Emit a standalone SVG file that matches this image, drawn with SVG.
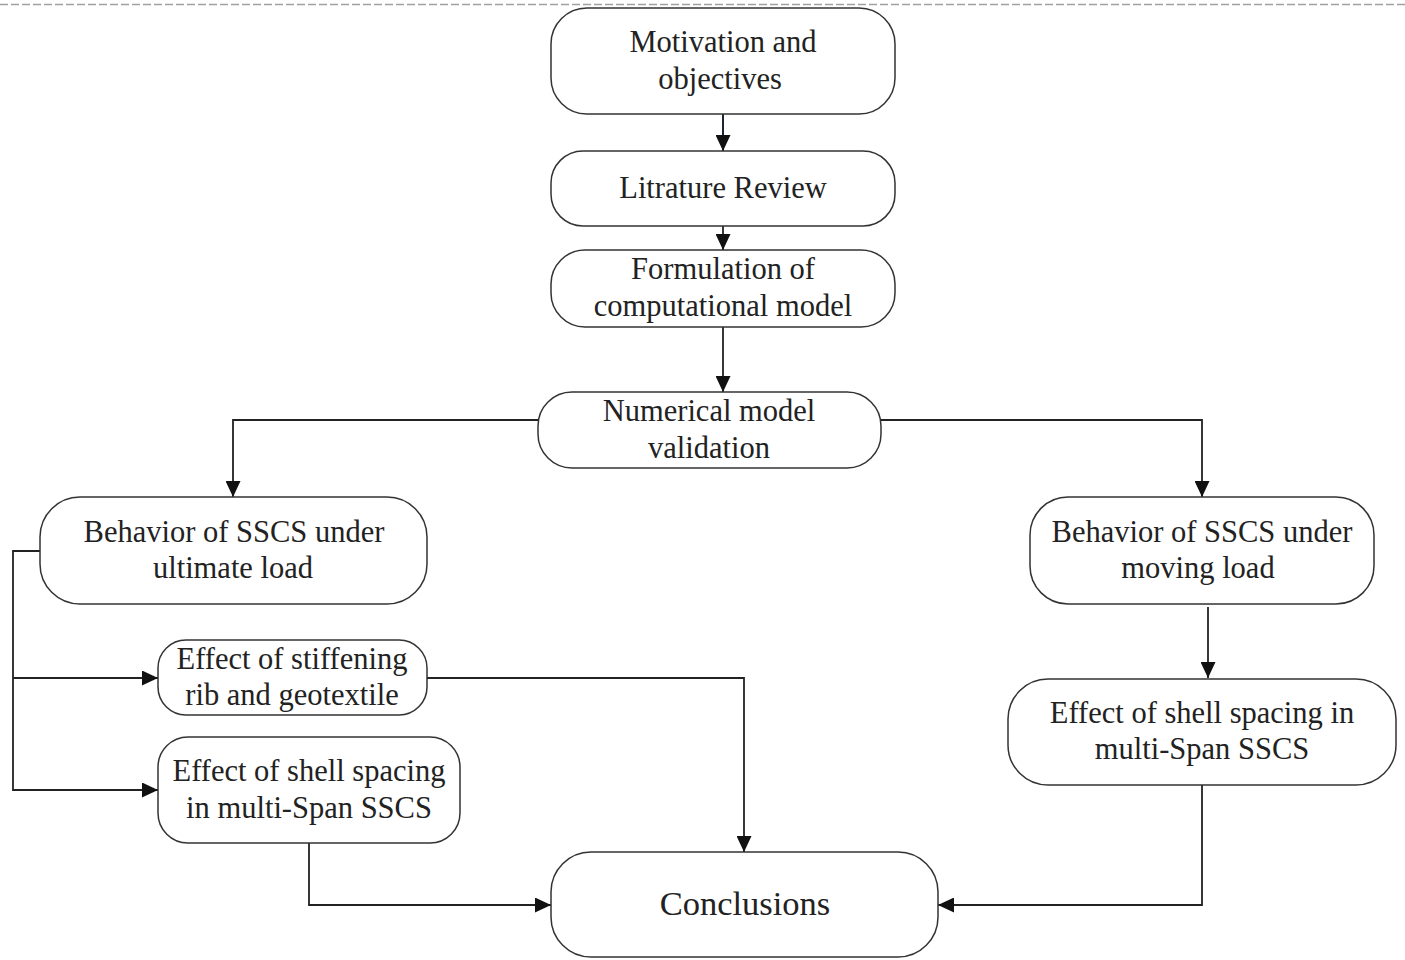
<svg xmlns="http://www.w3.org/2000/svg" width="1405" height="960" viewBox="0 0 1405 960">
<style>
.box{fill:#fff;stroke:#333;stroke-width:1.5}
.t{font-family:"Liberation Serif","Times New Roman",serif;font-size:30.5px;fill:#222;text-anchor:middle}
.big{font-size:34.5px}
.c{fill:none;stroke:#222;stroke-width:1.8}
</style>
<defs>
<marker id="ah" markerUnits="userSpaceOnUse" markerWidth="16" markerHeight="15" refX="16" refY="7.5" orient="auto">
<path d="M0,0 L16,7.5 L0,15 z" fill="#111"/>
</marker>
</defs>
<rect width="1405" height="960" fill="#fff"/>
<line x1="0" y1="4.5" x2="1405" y2="4.5" stroke="#a0a0a0" stroke-width="1.5" stroke-dasharray="8,3"/>
<g id="connectors">
<line class="c" x1="723" y1="114" x2="723" y2="151" marker-end="url(#ah)" style="stroke:#1c2536;stroke-width:2"/>
<line class="c" x1="723" y1="226" x2="723" y2="250" marker-end="url(#ah)"/>
<line class="c" x1="723" y1="327" x2="723" y2="392" marker-end="url(#ah)"/>
<polyline class="c" points="538,420 233,420 233,497" marker-end="url(#ah)"/>
<polyline class="c" points="881,420 1202,420 1202,497" marker-end="url(#ah)"/>
<line class="c" x1="1208" y1="607" x2="1208" y2="678" marker-end="url(#ah)"/>
<polyline class="c" points="1202,785 1202,905 938,905" marker-end="url(#ah)"/>
<polyline class="c" points="40,551 13,551 13,790 158,790" marker-end="url(#ah)"/>
<polyline class="c" points="13,678 158,678" marker-end="url(#ah)"/>
<polyline class="c" points="427,678 744,678 744,852" marker-end="url(#ah)"/>
<polyline class="c" points="309,843 309,905 551,905" marker-end="url(#ah)"/>
</g>
<g id="n1"><rect class="box" x="551" y="8" width="344" height="106" rx="36"/>
<text class="t" x="723" y="52">Motivation and</text><text class="t" x="720" y="89">objectives</text></g>
<g id="n2"><rect class="box" x="551" y="151" width="344" height="75" rx="32"/>
<text class="t" x="723" y="198">Litrature Review</text></g>
<g id="n3"><rect class="box" x="551" y="250" width="344" height="77" rx="34"/>
<text class="t" x="723" y="279">Formulation of</text><text class="t" x="723" y="316">computational model</text></g>
<g id="n4"><rect class="box" x="538" y="392" width="343" height="76" rx="34"/>
<text class="t" x="709" y="421">Numerical model</text><text class="t" x="709" y="458">validation</text></g>
<g id="n5"><rect class="box" x="40" y="497" width="387" height="107" rx="40"/>
<text class="t" x="234" y="542">Behavior of SSCS under</text><text class="t" x="233" y="578">ultimate load</text></g>
<g id="n6"><rect class="box" x="1030" y="497" width="344" height="107" rx="38"/>
<text class="t" x="1202" y="542">Behavior of SSCS under</text><text class="t" x="1198" y="578">moving load</text></g>
<g id="n7"><rect class="box" x="1008" y="679" width="388" height="106" rx="40"/>
<text class="t" x="1202" y="723">Effect of shell spacing in</text><text class="t" x="1202" y="759">multi-Span SSCS</text></g>
<g id="n8"><rect class="box" x="158" y="640" width="269" height="75" rx="28"/>
<text class="t" x="292" y="669">Effect of stiffening</text><text class="t" x="292" y="705">rib and geotextile</text></g>
<g id="n9"><rect class="box" x="158" y="737" width="302" height="106" rx="30"/>
<text class="t" x="309" y="781">Effect of shell spacing</text><text class="t" x="309" y="818">in multi-Span SSCS</text></g>
<g id="n10"><rect class="box" x="551" y="852" width="387" height="105" rx="40"/>
<text class="t big" x="745" y="915">Conclusions</text></g>
</svg>
